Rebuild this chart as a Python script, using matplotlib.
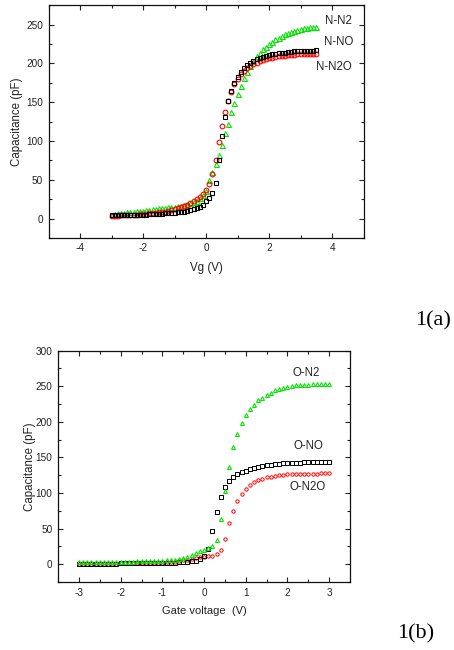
import numpy as np
import matplotlib
matplotlib.use('Agg')
import matplotlib.pyplot as plt
from matplotlib.ticker import MultipleLocator

plt.rcParams['font.family'] = ['Liberation Sans', 'DejaVu Sans']
plt.rcParams['axes.unicode_minus'] = False

# ---- panel 1(a): N-annealed samples, sweep -3 .. 3.5 V in 0.1 V steps
vg_a = np.round(np.arange(-3.0, 3.55, 0.1), 1)

n_no = [4, 4, 4, 4, 4.5, 4.5, 4.5, 5, 5, 5,
        5, 5, 5.5, 5.5, 6, 6, 6, 6.5, 7, 7,
        7.5, 8, 8.5, 9, 10, 11, 12, 13, 15, 18,
        22, 27, 33, 46, 75, 106, 131, 151, 165, 175,
        183, 189, 194, 198, 201, 203, 205, 207, 208, 209.5,
        210.5, 211.5, 212, 213, 213.5, 214, 214.5, 215, 215.5, 216,
        216, 216, 216.5, 216.5, 216.5, 217]

n_n2o = [3, 3.5, 3.5, 4, 4, 4.5, 4.5, 5, 5, 5.5,
         6, 6, 6.5, 7, 7.5, 8, 8.5, 9, 10, 11,
         12, 13, 15, 16.5, 18, 20, 22, 25, 28, 32,
         37, 45, 58, 76, 99, 119, 137, 152, 163, 173,
         180, 186, 190, 194, 197, 199, 201, 203, 204.5, 205.5,
         206.5, 207.5, 208, 209, 209.5, 210, 210.5, 211, 211, 211.5,
         211.5, 212, 212, 212, 212.5, 212.5]

n_n2 = [5, 6, 6.5, 7, 7.5, 8, 8.5, 9, 9.5, 10,
        10, 10.5, 11, 12, 12.5, 13, 13.5, 14, 14.5, 15,
        15, 15.5, 16, 17, 18, 19.5, 21, 23, 26, 30,
        36, 50, 60, 70, 82, 95, 110, 122, 137, 149,
        161, 171, 181, 189, 196, 203, 209, 214, 218, 221,
        225, 228, 231, 233, 235.5, 237.5, 239, 240.5, 242, 243,
        244, 245, 246, 246.5, 247, 247.5]

# ---- panel 1(b): O-annealed samples, sweep -3 .. 3 V in 0.1 V steps
vg_b = np.round(np.arange(-3.0, 3.05, 0.1), 1)

o_n2 = [2.5, 2.5, 2.5, 2.5, 3, 3, 3, 3, 3, 3.5,
        3.5, 3.5, 3.5, 3.5, 4, 4, 4, 4.5, 4.5, 5,
        5, 5.5, 6, 6.5, 7.5, 9, 10.5, 13, 15.5, 18,
        20, 23, 26, 34, 64, 103, 137, 164, 183, 198,
        209, 218, 224, 230, 234, 238, 241, 244, 246, 248,
        249, 250, 251, 251.5, 252, 252, 252.5, 252.5, 253, 253,
        253]

o_no = [0.5, 0.5, 0.5, 0.5, 0.5, 0.5, 0.5, 0.5, 0.5, 0.5,
        1, 1, 1, 1, 1, 1, 1, 1, 1, 1,
        1.5, 1.5, 2, 2, 2.5, 3, 3.5, 4, 5, 7,
        11, 21, 46, 74, 95, 109, 117, 122, 126, 129,
        131.5, 133.5, 135.5, 137, 138, 139, 140, 140.5, 141, 141.5,
        142, 142, 142.5, 142.5, 143, 143, 143, 143.5, 143.5, 143.5,
        143.5]

o_n2o = [0.5, 0.5, 0.5, 0.5, 0.5, 0.5, 0.5, 0.5, 0.5, 0.5,
         1, 1, 1, 1, 1, 1, 1, 1, 1, 1,
         2, 2.5, 3, 3.5, 4.5, 5.5, 6.5, 7.5, 8.5, 9.5,
         10, 11, 12, 14, 20, 36, 58, 75, 89, 99,
         106, 111, 115, 118, 120, 122, 123, 124, 125, 125.5,
         126, 126, 126.5, 126.5, 127, 127, 127, 127, 127.5, 127.5,
         127.5]

GREEN = '#00e600'
RED = '#ff0000'
BLACK = '#000000'


def style_axes(ax, xmajor, xminor, ymajor, yminor):
    ax.xaxis.set_major_locator(MultipleLocator(xmajor))
    ax.xaxis.set_minor_locator(MultipleLocator(xminor))
    ax.yaxis.set_major_locator(MultipleLocator(ymajor))
    ax.yaxis.set_minor_locator(MultipleLocator(yminor))
    ax.tick_params(which='both', direction='in', top=True, right=True,
                   labelsize=7.2, width=0.8, colors='#222222', pad=4)
    ax.tick_params(which='major', length=3.5)
    ax.tick_params(which='minor', length=2)
    for s in ax.spines.values():
        s.set_linewidth(0.9)
        s.set_color('#111111')


fig = plt.figure(figsize=(4.54, 6.5), dpi=100)

# 1(a)
ax1 = fig.add_axes([0.107, 0.634, 0.694, 0.358])
ax1.plot(vg_a, n_n2, ls='none', marker='^', ms=3.6, mfc='none', mec=GREEN, mew=0.8)
ax1.plot(vg_a, n_n2o, ls='none', marker='o', ms=3.4, mfc='none', mec=RED, mew=0.8)
ax1.plot(vg_a, n_no, ls='none', marker='s', ms=3.2, mfc='none', mec=BLACK, mew=0.8)
ax1.set_xlim(-5, 5)
ax1.set_ylim(-25, 275)
style_axes(ax1, 2, 1, 50, 25)
ax1.set_xlabel('Vg (V)', fontsize=8.3, color='#222222', labelpad=6)
ax1.set_ylabel('Capacitance (pF)', fontsize=8.3, color='#222222', labelpad=2)
ax1.text(4.2, 254, 'N-N2', fontsize=8.3, ha='center', va='center', color='#222222')
ax1.text(4.2, 227, 'N-NO', fontsize=8.3, ha='center', va='center', color='#222222')
ax1.text(4.05, 195, 'N-N2O', fontsize=8.3, ha='center', va='center', color='#222222')

# 1(b)
ax2 = fig.add_axes([0.128, 0.1046, 0.643, 0.356])
ax2.plot(vg_b, o_n2o, ls='none', marker='o', ms=2.4, mfc='none', mec=RED, mew=0.7)
ax2.plot(vg_b, o_no, ls='none', marker='s', ms=2.3, mfc='none', mec=BLACK, mew=0.7)
ax2.plot(vg_b, o_n2, ls='none', marker='^', ms=2.8, mfc='none', mec=GREEN, mew=0.8)
ax2.set_xlim(-3.5, 3.5)
ax2.set_ylim(-25, 300)
style_axes(ax2, 1, 0.5, 50, 25)
ax2.set_xlabel('Gate voltage  (V)', fontsize=8.0, color='#222222', labelpad=6)
ax2.set_ylabel('Capacitance (pF)', fontsize=8.3, color='#222222', labelpad=0)
ax2.text(2.45, 269, 'O-N2', fontsize=8.3, ha='center', va='center', color='#222222')
ax2.text(2.5, 166, 'O-NO', fontsize=8.3, ha='center', va='center', color='#222222')
ax2.text(2.48, 109, 'O-N2O', fontsize=8.3, ha='center', va='center', color='#222222')

# figure captions
fig.text(433 / 454, 1 - 321 / 650, '1(a)', family='Liberation Serif', fontsize=16,
         ha='center', va='center')
fig.text(416 / 454, 1 - 634 / 650, '1(b)', family='Liberation Serif', fontsize=16,
         ha='center', va='center')

fig.savefig('out.png', dpi=100)
